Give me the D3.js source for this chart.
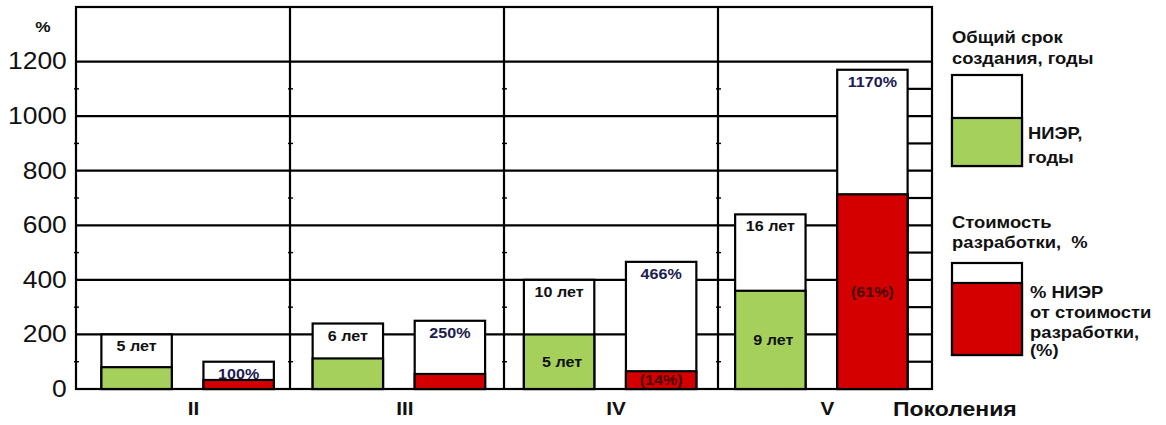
<!DOCTYPE html>
<html lang="ru">
<head>
<meta charset="utf-8">
<script src="https://cdn.jsdelivr.net/npm/d3@7"></script>
<style>
  html, body { margin: 0; padding: 0; background: #fff; }
  svg { display: block; }
  text { font-family: "Liberation Sans", Arial, sans-serif; }
</style>
</head>
<body>
<svg id="chart" width="1166" height="425"></svg>
<script>
// ---- data ----------------------------------------------------------
const generations   = ["II", "III", "IV", "V"];
const totalYears    = [5, 6, 10, 16];        // общий срок создания, годы
const nierYears     = [2, 2.8, 5, 9];        // НИЭР, годы
const costPct       = [100, 250, 466, 1170]; // стоимость разработки, %
const nierSharePct  = [33, 22, 14, 61];      // доля НИЭР в стоимости, %
const showNierYears = [false, false, true, true];
const showNierShare = [false, false, true, true];
const yTicks        = [0, 200, 400, 600, 800, 1000, 1200];
const yMinorTicks   = [100, 300, 500, 700, 900, 1100];

// ---- layout --------------------------------------------------------
const plot = { left: 76, right: 932, top: 7, bottom: 389 };
const SX = 1.15;                       // horizontal stretch of lettering
const GREEN = "#a6d05c", RED = "#d40000";
const STROKE = 2.2;

const svg = d3.select("#chart");

const y = d3.scaleLinear().domain([0, 1400]).range([plot.bottom, plot.top]);
// 40 percentage units per year of development time
const yYears = d3.scaleLinear().domain([0, 35]).range([plot.bottom, plot.top]);

// generation panels (dividers) and the slightly narrower bar layout inside them
const x = d3.scaleBand().domain(generations).range([plot.left, plot.right]);
const xBars = d3.scaleBand().domain(generations).range([82, 927]);
const inner = d3.scaleBand().domain(["time", "cost"])
  .range([0, xBars.bandwidth()]).paddingInner(0.31).paddingOuter(0.19);

function stretchedText(sel, px, py) {
  return sel.attr("transform", `translate(${px},${py}) scale(${SX},1)`);
}

// ---- grid ----------------------------------------------------------
const grid = svg.append("g").attr("stroke", "#000").attr("stroke-width", STROKE);
grid.selectAll("line.major").data(yTicks.filter(d => d > 0)).join("line")
  .attr("x1", plot.left).attr("x2", plot.right)
  .attr("y1", d => y(d)).attr("y2", d => y(d));

// fine ruler strip at the right edge, beside the last cost bar
const stripX = xBars("V") + inner("cost") + inner.bandwidth();
grid.selectAll("line.strip").data(yMinorTicks).join("line")
  .attr("x1", stripX).attr("x2", plot.right)
  .attr("y1", d => y(d)).attr("y2", d => y(d));

// generation dividers
const dividers = generations.slice(1).map(g => x(g));
grid.selectAll("line.div").data(dividers).join("line")
  .attr("x1", d => d).attr("x2", d => d)
  .attr("y1", plot.top).attr("y2", plot.bottom);

// small ticks on the dividers at the odd hundreds
const minor = svg.append("g").attr("stroke", "#000").attr("stroke-width", 1.4);
dividers.concat([plot.left]).forEach(dx => {
  minor.selectAll(null).data(yMinorTicks).join("line")
    .attr("x1", dx - 2).attr("x2", dx + 3)
    .attr("y1", d => y(d)).attr("y2", d => y(d));
});

// frame
svg.append("rect")
  .attr("x", plot.left).attr("y", plot.top)
  .attr("width", plot.right - plot.left).attr("height", plot.bottom - plot.top)
  .attr("fill", "none").attr("stroke", "#000").attr("stroke-width", STROKE);

// ---- bars ----------------------------------------------------------
const rows = generations.map((g, i) => ({
  g, total: totalYears[i], nier: nierYears[i], cost: costPct[i],
  share: nierSharePct[i], showYears: showNierYears[i], showShare: showNierShare[i]
}));

const bars = svg.append("g").attr("stroke", "#000").attr("stroke-width", STROKE);
rows.forEach(r => {
  const xt = xBars(r.g) + inner("time"), xc = xBars(r.g) + inner("cost"), bw = inner.bandwidth();
  // development time
  bars.append("rect").attr("x", xt).attr("width", bw)
    .attr("y", yYears(r.total)).attr("height", plot.bottom - yYears(r.total)).attr("fill", "#fff");
  bars.append("rect").attr("x", xt).attr("width", bw)
    .attr("y", yYears(r.nier)).attr("height", plot.bottom - yYears(r.nier)).attr("fill", GREEN);
  // development cost
  const redVal = r.cost * r.share / 100;
  bars.append("rect").attr("x", xc).attr("width", bw)
    .attr("y", y(r.cost)).attr("height", plot.bottom - y(r.cost)).attr("fill", "#fff");
  bars.append("rect").attr("x", xc).attr("width", bw)
    .attr("y", y(redVal)).attr("height", plot.bottom - y(redVal)).attr("fill", RED);
});

// ---- bar labels ----------------------------------------------------
const labels = svg.append("g").attr("font-weight", "bold").attr("font-size", 14)
  .attr("text-anchor", "middle");
rows.forEach(r => {
  const bw = inner.bandwidth();
  const ct = xBars(r.g) + inner("time") + bw / 2;
  const cc = xBars(r.g) + inner("cost") + bw / 2;
  stretchedText(labels.append("text").text(`${r.total} лет`).attr("fill", "#111"),
    ct, yYears(r.total) + 17);
  stretchedText(labels.append("text").text(`${r.cost}%`).attr("fill", "#1c1c50"),
    cc, y(r.cost) + 17);
  if (r.showYears) {
    stretchedText(labels.append("text").text(`${r.nier} лет`).attr("fill", "#111"),
      ct + 3, (yYears(r.nier) + plot.bottom) / 2 + 5);
  }
  if (r.showShare) {
    const redVal = r.cost * r.share / 100;
    stretchedText(labels.append("text").text(`(${r.share}%)`).attr("fill", "#4a0000"),
      cc, (y(redVal) + plot.bottom) / 2 + 5);
  }
});

// ---- axes ----------------------------------------------------------
const yAxis = svg.append("g").attr("transform", `translate(${plot.left},0)`)
  .call(d3.axisLeft(y).tickValues(yTicks).tickFormat(d3.format("d")).tickSize(0).tickPadding(8));
yAxis.select(".domain").remove();
yAxis.selectAll("text")
  .attr("font-family", "'Liberation Sans', Arial, sans-serif")
  .attr("font-size", 23).attr("fill", "#111")
  .attr("transform", `scale(${SX},1)`);

stretchedText(svg.append("text").text("%").attr("font-weight", "bold")
  .attr("font-size", 15).attr("text-anchor", "middle").attr("fill", "#111"), 43, 32);

const xLab = svg.append("g").attr("font-weight", "bold").attr("font-size", 18)
  .attr("text-anchor", "middle").attr("fill", "#111");
generations.forEach(g => {
  stretchedText(xLab.append("text").text(g), xBars(g) + xBars.bandwidth() / 2 + 6, 415);
});
stretchedText(xLab.append("text").text("Поколения").attr("text-anchor", "start")
  .attr("font-size", 20), 893, 416);

// ---- legend --------------------------------------------------------
const leg = svg.append("g").attr("font-weight", "bold").attr("font-size", 16).attr("fill", "#111");
const legX = 952, legW = 70;
[["Общий срок", 43], ["создания, годы", 64]].forEach(([t, ty]) =>
  stretchedText(leg.append("text").text(t), legX, ty));
const lb = svg.append("g").attr("stroke", "#000").attr("stroke-width", STROKE);
lb.append("rect").attr("x", legX).attr("y", 75).attr("width", legW).attr("height", 91).attr("fill", "#fff");
lb.append("rect").attr("x", legX).attr("y", 118).attr("width", legW).attr("height", 48).attr("fill", GREEN);
[["НИЭР,", 139], ["годы", 163]].forEach(([t, ty]) =>
  stretchedText(leg.append("text").text(t), 1028, ty));

[["Стоимость", 228], ["разработки,  %", 248]].forEach(([t, ty]) =>
  stretchedText(leg.append("text").text(t).style("white-space", "pre"), legX, ty));
lb.append("rect").attr("x", legX).attr("y", 263).attr("width", legW).attr("height", 92).attr("fill", "#fff");
lb.append("rect").attr("x", legX).attr("y", 283).attr("width", legW).attr("height", 72).attr("fill", RED);
[["% НИЭР", 298], ["от стоимости", 318], ["разработки,", 338], ["(%)", 356]].forEach(([t, ty]) =>
  stretchedText(leg.append("text").text(t), 1030, ty));
</script>
</body>
</html>
